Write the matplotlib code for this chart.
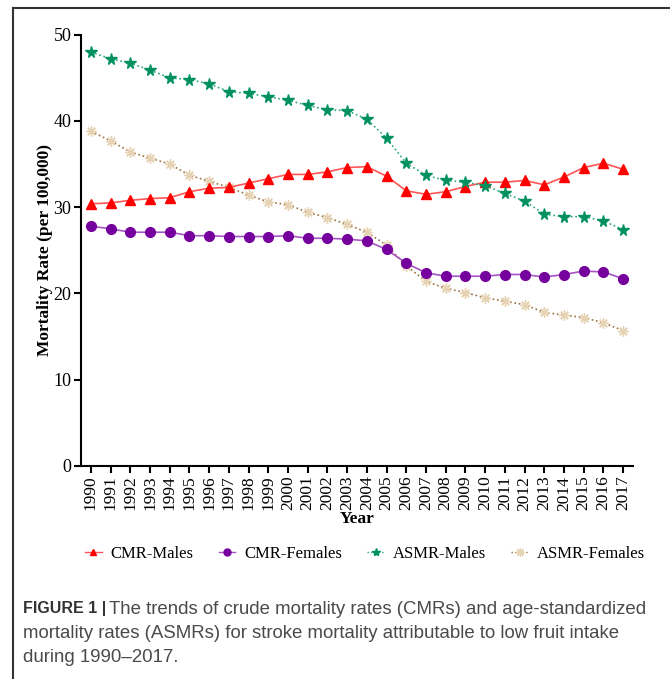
import matplotlib.pyplot as plt
from matplotlib.lines import Line2D
import numpy as np

years = np.arange(1990, 2018)

cmr_males = [30.4, 30.5, 30.8, 31.0, 31.1, 31.8, 32.2, 32.3, 32.8, 33.3,
             33.8, 33.8, 34.1, 34.6, 34.7, 33.6, 31.9, 31.5, 31.8, 32.4,
             32.9, 32.9, 33.1, 32.6, 33.5, 34.6, 35.1, 34.4]
cmr_females = [27.8, 27.5, 27.1, 27.1, 27.1, 26.7, 26.7, 26.6, 26.6, 26.6,
               26.7, 26.4, 26.4, 26.3, 26.1, 25.1, 23.5, 22.4, 22.0, 22.0,
               22.0, 22.2, 22.2, 21.9, 22.2, 22.6, 22.5, 21.7]
asmr_males = [48.0, 47.2, 46.7, 45.9, 45.0, 44.8, 44.3, 43.4, 43.2, 42.8,
              42.4, 41.8, 41.3, 41.2, 40.2, 38.0, 35.1, 33.7, 33.1, 32.9,
              32.5, 31.6, 30.7, 29.2, 28.9, 28.9, 28.4, 27.4]
asmr_females = [38.8, 37.7, 36.4, 35.7, 35.0, 33.7, 33.0, 32.3, 31.4, 30.6,
                30.3, 29.4, 28.8, 28.0, 27.1, 25.6, 23.2, 21.4, 20.6, 20.1,
                19.5, 19.1, 18.7, 17.8, 17.5, 17.2, 16.6, 15.7]

labels = ['CMR-Males', 'CMR-Females', 'ASMR-Males', 'ASMR-Females']

serif = ['Liberation Serif', 'DejaVu Serif']
plt.rcParams['font.family'] = serif

fig = plt.figure(figsize=(6.7, 6.79), dpi=100)
ax = fig.add_axes([0.1209, 0.3137, 0.8239, 0.6352])

ax.plot(years, cmr_males, '-', color='#ff5555', lw=1.2, marker='^', ms=7,
        mfc='#ff0000', mec='#ff0000', zorder=4)
ax.plot(years, cmr_females, '-', color='#a653c6', lw=1.2, marker='o', ms=7,
        mfc='#76009e', mec='#76009e', zorder=3)
ax.plot(years, asmr_males, ':', color='#2aa878', lw=1.2, marker='*', ms=8.5,
        mfc='#00915f', mec='#00915f', zorder=5)
ax.plot(years, asmr_females, ':', color='#a07040', lw=1.2, marker=(8, 2, 0), ms=7.5,
        mfc='#e6d3b4', mec='#e6d3b4', mew=1.0, zorder=2)

ax.set_xlim(1989.5, 2017.5)
ax.set_ylim(0, 50)
ax.set_xticks(years)
ax.set_xticklabels([str(y) for y in years], rotation=90, fontsize=12.5)
ax.set_yticks(np.arange(0, 51, 10))
ax.tick_params(axis='y', labelsize=13, width=1.5, length=5, pad=2)
ax.tick_params(axis='x', width=1.5, length=5, pad=2)
for s in ['top', 'right']:
    ax.spines[s].set_visible(False)
for s in ['left', 'bottom']:
    ax.spines[s].set_linewidth(1.5)

ax.set_ylabel('Mortality Rate (per 100,000)', fontsize=12.5, fontweight='bold', labelpad=0)
ax.set_xlabel('Year', fontsize=12.5, fontweight='bold', labelpad=0)

handles = [
    Line2D([], [], color='#ff5555', lw=1, marker='^', ms=5, mfc='#ff0000', mec='#ff0000'),
    Line2D([], [], color='#a653c6', lw=1, marker='o', ms=5, mfc='#76009e', mec='#76009e'),
    Line2D([], [], color='#2aa878', lw=1, ls=':', marker='*', ms=6, mfc='#00915f', mec='#00915f'),
    Line2D([], [], color='#a07040', lw=1, ls=':', marker=(8, 2, 0), ms=6, mfc='#e6d3b4', mec='#e6d3b4'),
]
fig.legend(handles, labels, loc='center', bbox_to_anchor=(0.545, 1 - 554 / 679), ncol=4,
           frameon=False, fontsize=12, handlelength=1.0, columnspacing=1.5,
           handletextpad=0.55)

# page frame lines
fig.add_artist(Line2D([13 / 670, 1.0], [1 - 8 / 679, 1 - 8 / 679], color='#333333', lw=1.5,
                      transform=fig.transFigure))
fig.add_artist(Line2D([13 / 670, 13 / 670], [0, 1 - 8 / 679], color='#333333', lw=1.5,
                      transform=fig.transFigure))

# caption
sans = ['Liberation Sans', 'DejaVu Sans']
cap_x = 23 / 670
fig.text(cap_x, 1 - 609 / 679, 'FIGURE 1 |', family=sans, fontsize=11.5, fontweight='bold',
         color='#333333', va='center')
fig.text(109 / 670, 1 - 609 / 679,
         'The trends of crude mortality rates (CMRs) and age-standardized',
         family=sans, fontsize=13.4, color='#4a4a4a', va='center')
fig.text(cap_x, 1 - 634 / 679,
         'mortality rates (ASMRs) for stroke mortality attributable to low fruit intake',
         family=sans, fontsize=13.4, color='#4a4a4a', va='center')
fig.text(cap_x, 1 - 658 / 679, 'during 1990\u20132017.',
         family=sans, fontsize=13.4, color='#4a4a4a', va='center')

fig.savefig('out.png', dpi=100)
